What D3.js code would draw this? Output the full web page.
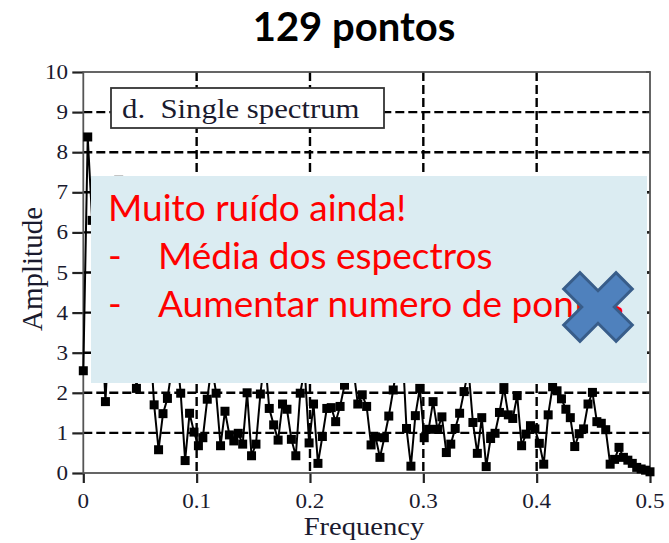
<!DOCTYPE html>
<html>
<head>
<meta charset="utf-8">
<script src="https://cdn.jsdelivr.net/npm/d3@7"></script>
<style>
  html, body { margin: 0; padding: 0; background: #fff; }
  svg { display: block; }
</style>
</head>
<body>
<svg id="chart" width="669" height="543"></svg>
<script>
// Spectrum amplitudes, 129 samples from 0 to 0.5 of the sampling rate
const amplitude = [
  2.55, 8.38, 6.3, 4.9, 4.2, 1.78, 3.9, 5.6, 7.3, 4.7,
  3.6, 4.1, 2.11, 3.2, 2.8, 3.5, 1.70, 0.58, 1.48, 1.86,
  2.6, 3.1, 1.99, 0.31, 1.49, 1.02, 0.68, 0.88, 1.84, 2.7,
  1.99, 0.68, 1.54, 0.95, 0.80, 0.99, 0.72, 2.00, 0.43, 0.72,
  1.97, 2.9, 1.61, 1.20, 0.82, 1.72, 1.59, 0.84, 0.43, 1.99,
  2.6, 0.75, 1.72, 0.24, 0.91, 1.61, 1.63, 1.28, 1.66, 2.19,
  3.0, 2.6, 1.72, 1.95, 1.66, 0.70, 0.90, 0.39, 0.88, 1.42,
  2.07, 2.8, 3.3, 1.11, 0.17, 1.43, 2.11, 0.88, 1.09, 1.78,
  1.09, 1.40, 0.51, 0.72, 1.11, 1.49, 2.03, 2.6, 1.26, 0.49,
  1.38, 0.16, 0.86, 0.99, 1.51, 2.13, 1.45, 1.36, 1.93, 0.68,
  0.97, 1.18, 1.10, 0.74, 0.22, 1.45, 2.15, 2.05, 1.85, 1.59,
  1.38, 0.66, 0.98, 1.10, 1.72, 2.01, 1.28, 1.24, 1.08, 0.22,
  0.34, 0.64, 0.39, 0.32, 0.24, 0.14, 0.10, 0.07, 0.03
];
// Frequency of each sample on the regular DFT grid
const frequency = amplitude.map((_, i) => i * 0.5 / (amplitude.length - 1));

const xTicks = [0, 0.1, 0.2, 0.3, 0.4, 0.5];
const xTickLabels = ["0", "0.1", "0.2", "0.3", "0.4", "0.5"];
const yTicks = [0, 1, 2, 3, 4, 5, 6, 7, 8, 9, 10];
const yTickLabels = ["0", "1", "2", "3", "4", "5", "6", "7", "8", "9", "10"];

const titleText = "129 pontos";
const legendText = "d.  Single spectrum";
const xLabel = "Frequency";
const yLabel = "Amplitude";
const noteLines = [
  { bullet: "", text: "Muito ruído ainda!" },
  { bullet: "-", text: "Média dos espectros" },
  { bullet: "-", text: "Aumentar numero de pontos" }
];

(function draw() {
  const svg = d3.select("#chart");
  const serif = "'Liberation Serif', 'Times New Roman', serif";
  const sans = "Lato, 'Noto Sans', sans-serif";
  const stretch = 1.1;

  const pLeft = 83.3, pRight = 650, pTop = 72, pBottom = 473;
  const x = d3.scaleLinear().domain([0, 0.5]).range([pLeft, pRight]);
  const y = d3.scaleLinear().domain([0, 10]).range([pBottom, pTop]);

  // Title
  svg.append("text")
    .attr("x", 354).attr("y", 41)
    .attr("text-anchor", "middle")
    .style("font-family", sans).style("font-weight", 700).style("font-size", "40px")
    .attr("fill", "#000")
    .text(titleText);

  const plot = svg.append("g");

  // Dashed grid
  plot.append("g").selectAll("line").data(yTicks.filter(v => v > 0 && v < 10)).join("line")
    .attr("x1", pLeft).attr("x2", pRight)
    .attr("y1", d => y(d)).attr("y2", d => y(d))
    .attr("stroke", "#000").attr("stroke-width", 2.4).attr("stroke-dasharray", "9,4");
  plot.append("g").selectAll("line").data(xTicks.filter(v => v > 0 && v < 0.5)).join("line")
    .attr("x1", d => x(d)).attr("x2", d => x(d))
    .attr("y1", pTop).attr("y2", pBottom)
    .attr("stroke", "#000").attr("stroke-width", 2.4).attr("stroke-dasharray", "9,4");

  // Axes with outward ticks
  const yAxis = plot.append("g").attr("transform", `translate(${pLeft},0)`)
    .call(d3.axisLeft(y).tickValues(yTicks).tickSize(11).tickFormat(""));
  const xAxis = plot.append("g").attr("transform", `translate(0,${pBottom})`)
    .call(d3.axisBottom(x).tickValues(xTicks).tickSize(10).tickFormat(""));
  [yAxis, xAxis].forEach(a => {
    a.select(".domain").remove();
    a.selectAll(".tick line").attr("stroke", "#222").attr("stroke-width", 2.2);
  });

  // Small inward ticks on the right edge
  plot.append("g").selectAll("line").data(yTicks).join("line")
    .attr("x1", pRight - 4).attr("x2", pRight)
    .attr("y1", d => y(d)).attr("y2", d => y(d))
    .attr("stroke", "#222").attr("stroke-width", 1.8);

  // Frame
  plot.append("rect")
    .attr("x", pLeft).attr("y", pTop)
    .attr("width", pRight - pLeft).attr("height", pBottom - pTop)
    .attr("fill", "none").attr("stroke", "#555").attr("stroke-width", 1.8);

  // Tick labels
  plot.append("g").selectAll("text").data(yTicks).join("text")
    .attr("transform", d => `translate(68,${y(d) + 7}) scale(${stretch},1)`)
    .attr("text-anchor", "end")
    .style("font-family", serif).style("font-size", "21px")
    .attr("fill", "#1a1a2e")
    .text((d, i) => yTickLabels[i]);
  plot.append("g").selectAll("text").data(xTicks).join("text")
    .attr("transform", d => `translate(${x(d)},508) scale(${stretch},1)`)
    .attr("text-anchor", "middle")
    .style("font-family", serif).style("font-size", "21px")
    .attr("fill", "#1a1a2e")
    .text((d, i) => xTickLabels[i]);

  // Axis titles
  svg.append("text")
    .attr("transform", `translate(364,535) scale(${stretch},1)`)
    .attr("text-anchor", "middle")
    .style("font-family", serif).style("font-size", "26px")
    .attr("fill", "#1a1a2e")
    .text(xLabel);
  svg.append("text")
    .attr("transform", "translate(42,269) rotate(-90)")
    .attr("text-anchor", "middle")
    .style("font-family", serif).style("font-size", "29px")
    .attr("fill", "#1a1a2e")
    .text(yLabel);

  // Spectrum line and square markers
  const line = d3.line().x((d, i) => x(frequency[i])).y(d => y(d));
  plot.append("path")
    .datum(amplitude)
    .attr("d", line)
    .attr("fill", "none").attr("stroke", "#000").attr("stroke-width", 2);
  const sq = 9;
  plot.append("g").selectAll("rect").data(amplitude).join("rect")
    .attr("x", (d, i) => x(frequency[i]) - sq / 2)
    .attr("y", d => y(d) - sq / 2)
    .attr("width", sq).attr("height", sq)
    .attr("fill", "#000");

  // Panel legend box
  plot.append("rect")
    .attr("x", 111).attr("y", 88).attr("width", 273).attr("height", 40)
    .attr("fill", "#fff").attr("stroke", "#333").attr("stroke-width", 1.8);
  plot.append("text")
    .attr("transform", "translate(122,118) scale(1.14,1)")
    .style("font-family", serif).style("font-size", "27px")
    .style("white-space", "pre")
    .attr("fill", "#1a1a2e")
    .text(legendText);

  // Annotation overlay
  const note = svg.append("g");
  note.append("rect")
    .attr("x", 91).attr("y", 176).attr("width", 556).attr("height", 207)
    .attr("fill", "#dbecf2");
  noteLines.forEach((ln, i) => {
    const base = 221 + i * 48;
    if (ln.bullet) {
      note.append("text").attr("x", 108).attr("y", base)
        .style("font-family", sans).style("font-size", "37px")
        .attr("fill", "#ff0000").text(ln.bullet);
    }
    note.append("text").attr("x", ln.bullet ? 158 : 108).attr("y", base)
      .style("font-family", sans).style("font-size", "37px")
      .attr("fill", "#ff0000").text(ln.text);
  });

  // Cross mark
  const cx = 598, cy = 307, a = 37, h = 11.5;
  const plus = [[a, h], [h, h], [h, a], [-h, a], [-h, h], [-a, h], [-a, -h], [-h, -h], [-h, -a], [h, -a], [h, -h], [a, -h]];
  const c = Math.SQRT1_2;
  const cross = plus.map(([u, v]) => [cx + (u - v) * c, cy + (u + v) * c]);
  note.append("path")
    .attr("d", d3.line()(cross) + "Z")
    .attr("fill", "#4f81bd").attr("stroke", "#385d8a").attr("stroke-width", 3)
    .attr("stroke-linejoin", "miter");
})();
</script>
</body>
</html>
